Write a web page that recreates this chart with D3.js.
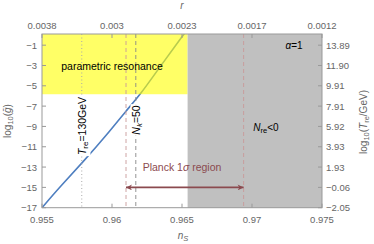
<!DOCTYPE html>
<html><head><meta charset="utf-8">
<script src="https://cdn.jsdelivr.net/npm/d3@7"></script>
<style>body{margin:0;background:#fff}svg{display:block}text{font-family:"Liberation Sans",Arial,sans-serif}</style>
</head><body><svg id="c" width="374" height="244"></svg>
<script>
const nsTicks = [0.955, 0.96, 0.965, 0.97, 0.975];
const nsTickLabels = ["0.955", "0.96", "0.965", "0.97", "0.975"];
const rTickLabels = ["0.0038", "0.003", "0.0023", "0.0017", "0.0012"];
const gTicks = [-1, -3, -5, -7, -9, -11, -13, -15, -17];
const treTickLabels = ["13.89", "11.90", "9.91", "7.91", "5.92", "3.93", "1.93", "\u22120.06", "\u22122.05"];
const curveNs = [0.955, 0.95629, 0.95795, 0.95962, 0.96105, 0.96200, 0.96343, 0.96509, 0.96518];
const curveLogG = [-17, -14.93, -12.47, -9.84, -7.38, -5.91, -3.12, 0.0, 0.15];
const resonanceTop = 0.1, resonanceBottom = -5.83, nsGrayStart = 0.9654;
const nsTre130 = 0.95784, nsNk50 = 0.9617, planckLow = 0.961, planckHigh = 0.9694, planckY = -15;

const svg = d3.select("#c");
const L = 42, R = 322, T = 34, B = 207.7;
const x = d3.scaleLinear().domain([0.955, 0.975]).range([L, R]);
const y = d3.scaleLinear().domain([-17, 0.1]).range([B, T]);
const tickCol = "#666", frameCol = "#999";

const defs = svg.append("defs");
defs.append("clipPath").attr("id","clip").append("rect").attr("x",L).attr("y",T).attr("width",R-L).attr("height",B-T);

// curve (under yellow)
svg.append("path").datum(curveNs.map((d,i)=>[d,curveLogG[i]]))
  .attr("clip-path","url(#clip)")
  .attr("d", d3.line().x(d=>x(d[0])).y(d=>y(d[1])).curve(d3.curveBasis))
  .attr("fill","none").attr("stroke","#4f7fc0").attr("stroke-width",1.6);
// yellow region
svg.append("rect").attr("x", x(0.955)).attr("y", y(resonanceTop)).attr("width", x(nsGrayStart)-x(0.955))
  .attr("height", y(resonanceBottom)-y(resonanceTop)).attr("fill","#ffff00").attr("fill-opacity",0.6);
// gray region
svg.append("rect").attr("x", x(nsGrayStart)).attr("y", T).attr("width", R-x(nsGrayStart)).attr("height", B-T).attr("fill","#c0c0c0");

// vertical lines
svg.append("line").attr("x1",x(nsTre130)).attr("x2",x(nsTre130)).attr("y1",T).attr("y2",B)
  .attr("stroke","#aaa").attr("stroke-width",1).attr("stroke-dasharray","1,2.5");
svg.append("line").attr("x1",x(nsNk50)).attr("x2",x(nsNk50)).attr("y1",T).attr("y2",B)
  .attr("stroke","#888").attr("stroke-width",0.9).attr("stroke-dasharray","4,3");
[planckLow, planckHigh].forEach(v=>{
  svg.append("line").attr("x1",x(v)).attr("x2",x(v)).attr("y1",T).attr("y2",B)
    .attr("stroke","#c89a9a").attr("stroke-width",0.9).attr("stroke-dasharray","4,3");
});

// arrow
defs.append("marker").attr("id","ah").attr("viewBox","0 0 10 10").attr("refX",10).attr("refY",5)
  .attr("markerWidth",9).attr("markerHeight",6).attr("markerUnits","userSpaceOnUse").attr("orient","auto-start-reverse")
  .append("path").attr("d","M0,0 L10,5 L0,10 L3,5 Z").attr("fill","#8b4a4f");
svg.append("line").attr("x1",x(planckLow)).attr("x2",x(planckHigh)).attr("y1",y(planckY)).attr("y2",y(planckY))
  .attr("stroke","#8b4a4f").attr("stroke-width",1.6).attr("marker-start","url(#ah)").attr("marker-end","url(#ah)");
svg.append("text").attr("x",182).attr("y",171).attr("text-anchor","middle").attr("font-size",10.5)
  .attr("fill","#8b4a4f").html("Planck 1<tspan font-style='italic'>σ</tspan> region");

// labels
svg.append("text").attr("x",112).attr("y",70).attr("text-anchor","middle").attr("font-size",10.5).text("parametric resonance");
svg.append("text").attr("x",294).attr("y",49).attr("text-anchor","middle").attr("font-size",10)
  .html("<tspan font-style='italic'>α</tspan>=1");
svg.append("text").attr("x",266).attr("y",131).attr("text-anchor","middle").attr("font-size",10)
  .html("<tspan font-style='italic'>N</tspan><tspan font-size='7.5' dy='2'>re</tspan><tspan dy='-2'>&lt;0</tspan>");

function vlabel(cx, cy, html){
  const g = svg.append("g").attr("transform",`translate(${cx},${cy}) rotate(-90)`);
  const t = g.append("text").attr("text-anchor","middle").attr("dy","0.35em").attr("font-size",10.5).html(html);
  const bb = t.node().getBBox();
  g.insert("rect","text").attr("x",bb.x-1).attr("y",bb.y).attr("width",bb.width+2).attr("height",bb.height).attr("fill","#fff");
}
vlabel(x(nsTre130)+1, 126, "<tspan font-style='italic'>T</tspan><tspan font-size='8' dy='2'>re</tspan><tspan dy='-2'>=130GeV</tspan>");
vlabel(x(nsNk50)+1, 120, "<tspan font-style='italic'>N</tspan><tspan font-size='8' dy='2' font-style='italic'>k</tspan><tspan dy='-2'>=50</tspan>");

// frame
svg.append("rect").attr("x",L).attr("y",T).attr("width",R-L).attr("height",B-T).attr("fill","none").attr("stroke",frameCol).attr("stroke-width",1);

// ticks
const tl = 4;
nsTicks.forEach((v,i)=>{
  svg.append("line").attr("x1",x(v)).attr("x2",x(v)).attr("y1",B).attr("y2",B-tl).attr("stroke",frameCol);
  svg.append("line").attr("x1",x(v)).attr("x2",x(v)).attr("y1",T).attr("y2",T+tl).attr("stroke",frameCol);
  svg.append("text").attr("x",x(v)).attr("y",223).attr("text-anchor","middle").attr("font-size",9.5).attr("fill",tickCol).text(nsTickLabels[i]);
  svg.append("text").attr("x",x(v)).attr("y",28.5).attr("text-anchor","middle").attr("font-size",9.5).attr("fill",tickCol).text(rTickLabels[i]);
});
gTicks.forEach((v,i)=>{
  svg.append("line").attr("x1",L).attr("x2",L+tl).attr("y1",y(v)).attr("y2",y(v)).attr("stroke",frameCol);
  svg.append("line").attr("x1",R).attr("x2",R-tl).attr("y1",y(v)).attr("y2",y(v)).attr("stroke",frameCol);
  svg.append("text").attr("x",37).attr("y",y(v)+3.5).attr("text-anchor","end").attr("font-size",9.5).attr("fill",tickCol).text("\u2212"+Math.abs(v));
  svg.append("text").attr("x",326).attr("y",y(v)+3.5).attr("text-anchor","start").attr("font-size",9.5).attr("fill",tickCol).text(treTickLabels[i]);
});

// axis titles
svg.append("text").attr("x",182).attr("y",9).attr("text-anchor","middle").attr("font-size",10).attr("font-style","italic").attr("fill",tickCol).text("r");
svg.append("text").attr("x",183).attr("y",239).attr("text-anchor","middle").attr("font-size",10).attr("fill",tickCol)
  .html("<tspan font-style='italic'>n</tspan><tspan font-size='7.5' dy='2' font-style='italic'>S</tspan>");
svg.append("text").attr("transform","translate(11,121) rotate(-90)").attr("text-anchor","middle").attr("font-size",10).attr("fill",tickCol)
  .html("log<tspan font-size='7.5' dy='2'>10</tspan><tspan dy='-2'>(</tspan><tspan font-style='italic'>ḡ</tspan>)");
svg.append("text").attr("transform","translate(367,122) rotate(-90)").attr("text-anchor","middle").attr("font-size",10).attr("fill",tickCol)
  .html("log<tspan font-size='7.5' dy='2'>10</tspan><tspan dy='-2'>(</tspan><tspan font-style='italic'>T</tspan><tspan font-size='7.5' dy='2'>re</tspan><tspan dy='-2'>/GeV)</tspan>");
</script></body></html>
